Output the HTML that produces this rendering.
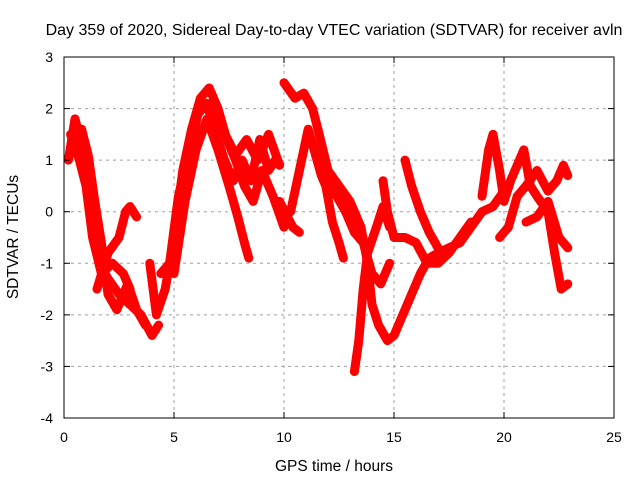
<!DOCTYPE html>
<html><head><meta charset="utf-8"><style>
body{margin:0;background:#fff}
svg text{font-family:"Liberation Sans",sans-serif;font-size:14px;fill:#000}
</style></head><body>
<svg id="chart" width="640" height="480" xmlns="http://www.w3.org/2000/svg">
<text x="334" y="35" text-anchor="middle" style="font-size:16px">Day 359 of 2020, Sidereal Day-to-day VTEC variation (SDTVAR) for receiver avln</text>
<g id="grid"></g>
<g id="series"></g>
<rect x="64" y="57" width="550" height="361" fill="none" stroke="#000" stroke-width="1"/>
<g id="ticks"></g>
<text x="334" y="471" text-anchor="middle" style="font-size:15.5px">GPS time / hours</text>
<text x="0" y="0" text-anchor="middle" transform="translate(18,237) rotate(-90)" style="font-size:15.5px">SDTVAR / TECUs</text>
</svg>
<script>
const xTicks=[0,5,10,15,20,25];
const yTicks=[3,2,1,0,-1,-2,-3,-4];
const arcA=[[0.2,1.0],[0.5,1.8],[0.8,1.3],[1.0,0.8],[1.3,-0.3],[1.6,-1.0],[2.0,-1.3],[2.5,-1.6],[3.0,-1.8],[3.5,-2.0],[4.0,-2.4],[4.3,-2.2]];
const arcB=[[0.3,1.5],[0.7,1.0],[1.0,0.5],[1.3,-0.5],[1.7,-1.2],[2.2,-1.0],[2.7,-1.2],[3.0,-1.5]];
const arcB2=[[0.4,1.3],[0.8,1.6],[1.1,1.1],[1.4,0.2],[1.7,-0.6],[2.0,-1.6],[2.4,-1.9],[2.9,-1.4],[3.3,-1.9],[3.7,-2.2]];
const arcC=[[1.5,-1.5],[2.0,-0.8],[2.5,-0.5],[2.8,0.0],[3.0,0.1],[3.3,-0.1]];
const arcD=[[3.9,-1.0],[4.2,-2.0],[4.6,-1.5],[5.0,-0.5],[5.4,0.8],[5.8,1.6],[6.2,2.2],[6.6,2.4],[7.0,2.0],[7.4,1.4],[7.8,1.0],[8.2,0.5],[8.6,0.2],[9.0,0.8],[9.5,0.3],[10.0,-0.3]];
const arcD2=[[4.4,-1.2],[4.8,-1.0],[5.2,0.3],[5.7,1.2],[6.1,1.9],[6.5,2.1],[6.9,1.5],[7.3,1.0],[7.7,0.6],[8.1,1.0],[8.5,0.6],[8.9,1.4],[9.3,0.8],[9.6,1.0]];
const arcE=[[5.0,-1.2],[5.5,0.2],[6.0,1.2],[6.5,1.8],[7.0,1.2],[7.5,0.5],[7.9,-0.1],[8.2,-0.6],[8.4,-0.9]];
const arcF=[[6.5,2.0],[7.2,1.6],[7.8,1.1],[8.3,1.4],[8.8,1.0],[9.3,1.5],[9.8,0.9]];
const arcG=[[10.0,2.5],[10.5,2.2],[10.9,2.3],[11.3,2.0],[11.6,1.5],[12.0,0.8],[12.5,0.5],[13.0,0.2],[13.5,-0.3],[13.8,-1.0],[14.0,-1.8],[14.3,-2.2],[14.7,-2.5],[15.0,-2.4],[15.4,-2.0],[15.8,-1.6],[16.2,-1.2],[16.6,-0.9],[17.0,-0.8],[17.5,-0.7],[18.0,-0.6],[18.5,-0.3],[19.0,0.0],[19.5,0.1],[20.0,0.4]];
const arcG2=[[11.5,1.2],[12.0,0.5],[12.4,0.3],[12.8,0.0],[13.2,-0.4],[13.6,-0.6],[14.0,-1.2],[14.4,-1.4],[14.8,-1.0]];
const arcH=[[10.3,0.0],[10.8,1.0],[11.1,1.6],[11.5,1.0],[11.7,0.7],[11.9,0.5],[12.2,-0.2],[12.5,-0.6],[12.7,-0.9]];
const arcI=[[9.8,0.2],[10.4,-0.3],[10.7,-0.4]];
const arcJ=[[13.2,-3.1],[13.4,-2.5],[13.6,-1.5],[13.8,-0.8],[14.2,-0.3],[14.5,0.1],[14.8,-0.3]];
const arcK=[[14.5,0.6],[14.7,0.0],[15.0,-0.5],[15.5,-0.5],[16.0,-0.6],[16.5,-1.0],[17.0,-1.0],[17.5,-0.8],[18.0,-0.5],[18.5,-0.2]];
const arcL=[[15.5,1.0],[15.8,0.5],[16.2,0.0],[16.6,-0.4],[17.0,-0.7]];
const arcM=[[19.0,0.3],[19.3,1.2],[19.5,1.5],[19.8,0.8],[20.0,0.2],[20.3,0.6],[20.7,1.0],[20.9,1.2],[21.2,0.5],[21.5,0.3],[22.0,0.0],[22.3,-0.8],[22.6,-1.5],[22.9,-1.4]];
const arcN=[[19.8,-0.5],[20.2,-0.3],[20.6,0.3],[21.0,0.5],[21.5,0.8],[22.0,0.4],[22.4,0.6],[22.7,0.9],[22.9,0.7]];
const arcO=[[21.0,-0.2],[21.5,-0.1],[22.0,0.2],[22.5,-0.5],[22.9,-0.7]];
const arcs=[arcA,arcB,arcB2,arcC,arcD,arcD2,arcE,arcF,arcG,arcG2,arcH,arcI,arcJ,arcK,arcL,arcM,arcN,arcO];
const X=t=>64+t*22, Y=v=>57+(3-v)*(361/7);
const NS="http://www.w3.org/2000/svg";
const grid=document.getElementById('grid'),ticks=document.getElementById('ticks'),series=document.getElementById('series');
function mk(tag,attrs,parent){const e=document.createElementNS(NS,tag);for(const k in attrs)e.setAttribute(k,attrs[k]);parent.appendChild(e);return e;}
xTicks.forEach(t=>{
  if(t>0&&t<25){const g=mk('line',{x1:X(t),x2:X(t),y1:57,y2:418,stroke:'#a0a0a0','stroke-dasharray':'3,4'},grid);
  
  }
  mk('line',{x1:X(t),x2:X(t),y1:418,y2:412,stroke:'#000'},ticks);
  mk('line',{x1:X(t),x2:X(t),y1:57,y2:63,stroke:'#000'},ticks);
  const l=mk('text',{x:X(t),y:442,'text-anchor':'middle'},ticks);l.textContent=t;
  
  
});
yTicks.forEach(v=>{
  if(v<3&&v>-4){const g=mk('line',{x1:64,x2:614,y1:Y(v),y2:Y(v),stroke:'#a0a0a0','stroke-dasharray':'3,4'},grid);
  
  }
  mk('line',{x1:64,x2:70,y1:Y(v),y2:Y(v),stroke:'#000'},ticks);
  mk('line',{x1:614,x2:608,y1:Y(v),y2:Y(v),stroke:'#000'},ticks);
  const l=mk('text',{x:53,y:Y(v)+5,'text-anchor':'end'},ticks);l.textContent=v;
  
  
});
arcs.forEach(a=>{
  const p=mk('polyline',{points:a.map(d=>X(d[0])+','+Y(d[1])).join(' '),fill:'none',stroke:'#ff0000','stroke-width':9,'stroke-linejoin':'round','stroke-linecap':'round'},series);
  
  
});
</script>
</body></html>
